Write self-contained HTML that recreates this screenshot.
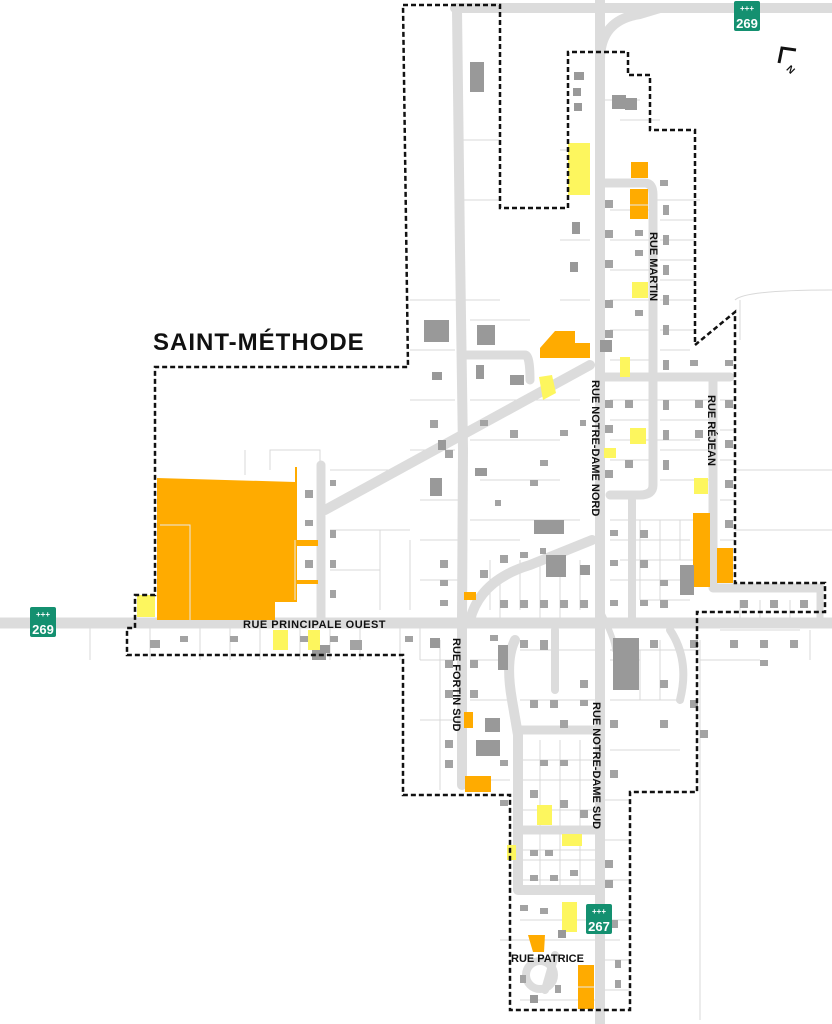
<!DOCTYPE html>
<html><head><meta charset="utf-8"><style>
html,body{margin:0;padding:0;background:#fff}
svg{display:block}
text{font-family:"Liberation Sans","DejaVu Sans",sans-serif;font-weight:bold;fill:#111}
</style></head><body>
<svg width="832" height="1024" viewBox="0 0 832 1024" xmlns="http://www.w3.org/2000/svg">
<!-- lot lines -->
<g stroke="#d9d9d9" stroke-width="1" fill="none">
<path d="M90 628V660M200 628V660M260 628V660M330 628V660M400 628V660M700 640V1020M740 300V340M650 200H700M410 400H455M410 450H455M470 400H580M470 440H560M480 480H560M330 470H400M330 530H410M380 530V610M410 540V610M470 520H580M520 650H600M520 700H600M610 650H700M610 700H680M610 750H680M420 660H460M420 720H460M520 780H600M520 860H600M520 920H600M610 400H700M610 440H700M610 520H700M660 200H695M660 240H695M660 280H695M660 330H695M560 240H590M560 300H590M460 140H500M460 300H500M410 300H460M560 150H590M620 560H700M720 630H800M700 660H760M540 620V560M560 620V560M500 620V580M620 120H660M600 100H640M640 600H690M500 940H620"/>
<path d="M270 470V450H320V620M245 450V475M735 300Q745 290 832 290M735 470H832M735 530H832M330 570H380"/>
<path d="M610 210H650M610 240H650M610 270H650M610 300H650M610 330H650M610 360H650M660 220H695M660 260H695M660 300H695M660 350H690M610 420H650M610 460H650M660 400H710M660 420H710M660 450H710M660 480H710M720 400H735M720 430H735M720 460H735M720 500H735M720 540H735M610 540H690M610 580H690M640 520V600M660 520V600M680 520V560M420 500H460M420 540H460M420 580H460M470 540H520M490 560V610M520 560V610M580 560V610M610 660H640M640 650V700M660 640V700M520 760H600M520 810H600M520 850H600M520 880H600M540 740V890M560 740V890M580 740V890M605 800H630M605 840H630M605 880H630M605 920H630M605 960H630M605 990H630M520 1000H600M470 660H510M470 700H510M470 780H510M420 620V660M440 640V790M740 600V620M760 600V620M790 600V620M810 630V660M150 628V660M230 628V660M300 628V660M360 628V660M470 320H530M460 200H500M410 350H455"/>
</g>
<!-- roads -->
<g stroke="#dcdcdc" fill="none" stroke-linecap="round" stroke-linejoin="round">
<path d="M0 623H832" stroke-width="11"/>
<path d="M455 8H832" stroke-width="10"/>
<path d="M457 10L460 250L463 450L462 620L462 785" stroke-width="10"/>
<path d="M600 0V1024" stroke-width="10"/>
<path d="M600 60Q600 20 640 14L660 8" stroke-width="10"/>
<path d="M325 510L590 365" stroke-width="10"/>
<path d="M321 465V618" stroke-width="9"/>
<path d="M600 183H645Q653 183 653 195V485Q653 495 640 495H610" stroke-width="9"/>
<path d="M600 377H730" stroke-width="9"/>
<path d="M713 377V588H820" stroke-width="9"/>
<path d="M820 588V620" stroke-width="7"/>
<path d="M470 620Q480 580 530 565L592 540" stroke-width="10"/>
<path d="M632 500V620" stroke-width="8"/>
<path d="M465 355H525Q530 355 530 380" stroke-width="9"/>
<path d="M515 640Q505 660 512 700L518 735V890H598" stroke-width="10"/>
<path d="M518 830H598M518 730H598" stroke-width="9"/>
<path d="M555 630V690" stroke-width="8"/>
<path d="M670 630Q690 660 680 700" stroke-width="8"/>
<path d="M600 610Q615 640 615 650" stroke-width="6"/>
<path d="M555 955L545 990" stroke-width="8"/>
</g>
<circle cx="540" cy="975" r="14" fill="none" stroke="#dcdcdc" stroke-width="8"/>
<!-- orange -->
<g fill="#ffab00">
<path d="M157 478L295 482V467H297V540H318V546H297V580H318V584H297V602H275V620H157Z"/>
<rect x="257" y="600" width="18" height="20"/>
<path d="M540 348L555 331H575V343H590V358H540Z"/>
<rect x="631" y="162" width="17" height="16"/><rect x="630" y="189" width="18" height="30"/>
<rect x="693" y="513" width="17" height="74"/><rect x="717" y="548" width="16" height="35"/>
<rect x="464" y="592" width="12" height="8"/><rect x="464" y="712" width="9" height="16"/>
<rect x="465" y="776" width="26" height="16"/>
<path d="M528 935H545L544 952H533Z"/><rect x="578" y="965" width="16" height="44"/>
</g>
<g stroke="#e8e8e8" stroke-width="1" fill="none"><path d="M160 525H190V620M295 540V600M578 987H594M630 205H648"/></g>
<!-- yellow -->
<g fill="#fdf65e">
<rect x="568" y="143" width="22" height="52"/><rect x="632" y="282" width="16" height="16"/>
<path d="M539 377L552 375L556 393L543 400Z"/>
<rect x="620" y="357" width="10" height="20"/><rect x="630" y="428" width="16" height="16"/>
<rect x="604" y="448" width="12" height="10"/><rect x="694" y="478" width="14" height="16"/>
<rect x="137" y="595" width="18" height="22"/><rect x="273" y="630" width="15" height="20"/><rect x="308" y="630" width="12" height="20"/>
<rect x="537" y="805" width="15" height="20"/><rect x="562" y="834" width="20" height="12"/>
<rect x="507" y="845" width="9" height="15"/><rect x="562" y="902" width="15" height="30"/>
</g>
<!-- buildings -->
<g fill="#999">
<rect x="470" y="62" width="14" height="30"/><rect x="612" y="95" width="14" height="14"/><rect x="625" y="98" width="12" height="12"/><rect x="574" y="72" width="10" height="8"/><rect x="573" y="88" width="8" height="8"/><rect x="574" y="103" width="8" height="8"/>
<rect x="424" y="320" width="25" height="22"/><rect x="477" y="325" width="18" height="20"/><rect x="572" y="222" width="8" height="12"/><rect x="570" y="262" width="8" height="10"/>
<rect x="534" y="520" width="30" height="14"/><rect x="430" y="478" width="12" height="18"/><rect x="438" y="440" width="8" height="10"/><rect x="475" y="468" width="12" height="8"/><rect x="510" y="375" width="14" height="10"/><rect x="476" y="365" width="8" height="14"/><rect x="432" y="372" width="10" height="8"/>
<rect x="546" y="555" width="20" height="22"/><rect x="580" y="565" width="10" height="10"/>
<rect x="613" y="638" width="26" height="52"/><rect x="498" y="645" width="10" height="25"/><rect x="430" y="638" width="10" height="10"/><rect x="476" y="740" width="24" height="16"/><rect x="485" y="718" width="15" height="14"/>
<rect x="680" y="565" width="14" height="30"/><rect x="600" y="340" width="12" height="12"/>
<rect x="558" y="930" width="8" height="8"/><rect x="530" y="995" width="8" height="8"/>
<rect x="320" y="645" width="10" height="8"/><rect x="312" y="650" width="14" height="10"/>
</g>
<g fill="#a3a3a3">
<path d="M300 636h8v6h-8zM330 636h8v6h-8zM350 640h12v10h-12zM230 636h8v6h-8zM150 640h10v8h-10zM180 636h8v6h-8zM405 636h8v6h-8zM490 635h8v6h-8zM520 640h8v8h-8zM540 640h8v10h-8zM650 640h8v8h-8zM690 640h8v8h-8zM730 640h8v8h-8zM760 640h8v8h-8zM790 640h8v8h-8zM440 600h8v6h-8zM500 600h8v8h-8zM520 600h8v8h-8zM540 600h8v8h-8zM560 600h8v8h-8zM580 600h8v8h-8zM610 600h8v6h-8zM640 600h8v6h-8zM660 600h8v8h-8zM740 600h8v8h-8zM770 600h8v8h-8zM800 600h8v8h-8zM440 560h8v8h-8zM440 580h8v6h-8zM480 570h8v8h-8zM500 555h8v8h-8zM520 552h8v6h-8zM540 548h6v6h-6zM610 560h8v6h-8zM640 560h8v8h-8zM660 580h8v6h-8zM610 530h8v6h-8zM640 530h8v8h-8z"/>
<path d="M605 200h8v8h-8zM605 230h8v8h-8zM605 260h8v8h-8zM605 300h8v8h-8zM605 330h8v8h-8zM635 230h8v6h-8zM635 250h8v6h-8zM635 310h8v6h-8zM660 180h8v6h-8zM663 205h6v10h-6zM663 235h6v10h-6zM663 265h6v10h-6zM663 295h6v10h-6zM663 325h6v10h-6zM663 360h6v10h-6zM663 400h6v10h-6zM663 430h6v10h-6zM663 460h6v10h-6zM690 360h8v6h-8zM725 360h8v6h-8zM625 400h8v8h-8zM625 460h8v8h-8zM605 400h8v8h-8zM605 425h8v8h-8zM605 470h8v8h-8zM695 400h8v8h-8zM695 430h8v8h-8zM725 400h8v8h-8zM725 440h8v8h-8zM725 480h8v8h-8zM725 520h8v8h-8z"/>
<path d="M305 490h8v8h-8zM305 520h8v6h-8zM305 560h8v8h-8zM330 480h6v6h-6zM330 530h6v8h-6zM330 560h6v8h-6zM330 590h6v8h-6zM430 420h8v8h-8zM445 450h8v8h-8zM530 480h8v6h-8z"/>
<path d="M445 660h8v8h-8zM445 690h8v8h-8zM445 740h8v8h-8zM445 760h8v8h-8zM470 660h8v8h-8zM470 690h8v8h-8zM530 700h8v8h-8zM550 700h8v8h-8zM560 720h8v8h-8zM610 720h8v8h-8zM660 680h8v8h-8zM660 720h8v8h-8zM610 770h8v8h-8zM530 790h8v8h-8zM560 800h8v8h-8zM580 810h8v8h-8zM530 850h8v6h-8zM545 850h8v6h-8zM570 870h8v6h-8zM530 875h8v6h-8zM550 875h8v6h-8zM605 860h8v8h-8zM605 880h8v8h-8zM520 905h8v6h-8zM540 908h8v6h-8zM610 920h8v8h-8zM520 975h6v8h-6zM555 985h6v8h-6zM615 960h6v8h-6zM615 980h6v8h-6z"/>
<path d="M580 680h8v8h-8zM580 700h8v6h-8zM540 760h8v6h-8zM560 760h8v6h-8zM500 760h8v6h-8zM500 800h8v6h-8zM690 700h8v8h-8zM700 730h8v8h-8zM760 660h8v6h-8zM480 420h8v6h-8zM510 430h8v8h-8zM560 430h8v6h-8zM540 460h8v6h-8zM495 500h6v6h-6zM580 420h6v6h-6z"/>
</g>
<!-- boundary -->
<path d="M403 5H500V208H568V52H628V75H650V130H695V345L735 312V583H825V612H697V792H630V1010H510V795H403V655H127V628H135V595H155V367H408Z" fill="none" stroke="#111" stroke-width="2.5" stroke-dasharray="5,3"/>
<!-- shields -->
<g>
<rect x="30" y="607" width="26" height="30" rx="2" fill="#149070"/><text x="43" y="634" font-size="13" text-anchor="middle" style="fill:#fff">269</text><text x="43" y="617" font-size="8" text-anchor="middle" style="fill:#fff">+++</text>
<rect x="734" y="1" width="26" height="30" rx="2" fill="#149070"/><text x="747" y="28" font-size="13" text-anchor="middle" style="fill:#fff">269</text><text x="747" y="11" font-size="8" text-anchor="middle" style="fill:#fff">+++</text>
<rect x="586" y="904" width="26" height="30" rx="2" fill="#149070"/><text x="599" y="931" font-size="13" text-anchor="middle" style="fill:#fff">267</text><text x="599" y="914" font-size="8" text-anchor="middle" style="fill:#fff">+++</text>
</g>
<!-- north arrow -->
<path d="M796 50L782 48L779 63" fill="none" stroke="#111" stroke-width="3"/>
<text x="788" y="72" font-size="10" transform="rotate(45 790 68)">N</text>
<!-- labels -->
<text x="153" y="350" font-size="24" letter-spacing="1">SAINT-MÉTHODE</text>
<text x="243" y="628" font-size="11" letter-spacing="0.5">RUE PRINCIPALE OUEST</text>
<text x="511" y="962" font-size="11">RUE PATRICE</text>
<text font-size="11" transform="translate(650 232) rotate(90)">RUE MARTIN</text>
<text font-size="11" transform="translate(592 380) rotate(90)">RUE NOTRE-DAME NORD</text>
<text font-size="11" transform="translate(708 395) rotate(90)">RUE RÉJEAN</text>
<text font-size="11" transform="translate(453 638) rotate(90)">RUE FORTIN SUD</text>
<text font-size="11" transform="translate(593 702) rotate(90)">RUE NOTRE-DAME SUD</text>
</svg>
</body></html>
